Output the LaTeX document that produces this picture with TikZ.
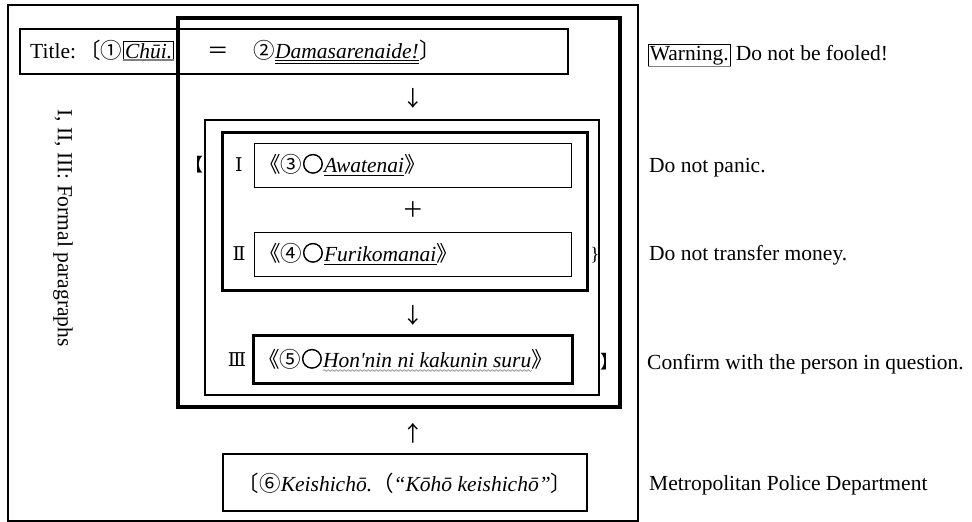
\documentclass[tikz,border=0pt]{standalone}
\usepackage{fontspec}
\setmainfont{Liberation Serif}
\newfontfamily\cjk{Noto Sans CJK JP}
\newfontfamily\cjkb[FakeBold=2.5]{Noto Sans CJK JP}
\newfontfamily\dvs{DejaVu Serif}
\usetikzlibrary{decorations.pathmorphing}
\newcommand\circo{{\cjkb ○}}
\begin{document}
\begin{tikzpicture}[x=1pt,y=-1pt,
  every node/.style={inner sep=0pt, font=\fontsize{21.5}{25}\selectfont},
  frame/.style={draw, line width=#1},
  frame/.default=1pt,
  bw/.style={anchor=base west},
  uline/.style={line width=0.8pt},
  shade/.style={draw=gray, line width=1.6pt}]
\useasboundingbox (0,0) rectangle (972,522);
% frames
\node[frame=1.5pt, minimum width=630pt, minimum height=516pt] (outer) at (323,263) {};
\node[frame=4.5pt, minimum width=442pt, minimum height=389pt] (thick) at (399,212.5) {};
\node[frame=1.2pt, minimum width=548pt, minimum height=45pt] (title) at (294,51.5) {};
\node[frame=2pt, minimum width=394pt, minimum height=275pt] (mid) at (402,257.5) {};
\node[frame=3pt, minimum width=365pt, minimum height=158pt] (inner) at (404.5,211) {};
\node[frame=1pt, minimum width=317pt, minimum height=44pt] (b1) at (412.5,165) {};
\node[frame=1pt, minimum width=317pt, minimum height=44pt] (b2) at (412.5,254) {};
\node[frame=3pt, minimum width=319pt, minimum height=48pt] (b3) at (412.5,359) {};
\node[frame=1.5pt, minimum width=364pt, minimum height=57pt] (b6) at (405,482.5) {};
% title row
\node[bw] (ttl) at (30,58) {Title:\hspace{3pt}{\cjk 〔①}};
\node[bw, draw, line width=0.7pt, inner sep=1.5pt] (chui) at ([xshift=1pt]ttl.base east) {\itshape Chūi.};
\draw[shade] (chui.south west) -- (chui.south east);
\node[anchor=base] (eq) at (218,58) {\cjk ＝};
\node[bw] (n2) at (253,58) {\cjk ②};
\node[bw] (dama) at (n2.base east) {\itshape Damasarenaide!};
\node[bw] (rb) at (dama.base east) {\cjk 〕};
\draw[uline] ([yshift=-2.5pt]dama.base west) -- ([yshift=-2.5pt]dama.base east);
\draw[uline] ([yshift=-5pt]dama.base west) -- ([yshift=-5pt]dama.base east);
% arrows
\node (ar1) at (413,98) {\cjk ↓};
\node (plus) at (413,210) {\cjk ＋};
\node (ar2) at (413,315) {\cjk ↓};
\node (ar3) at (413,433) {\cjk ↑};
% box I
\node (r1) at (239,165) {\dvs\fontsize{19}{20}\selectfont Ⅰ};
\node[bw] (o1) at (259,172) {{\cjk 《③}\circo};
\node[bw] (aw) at (o1.base east) {\itshape Awatenai};
\node[bw] (c1) at (aw.base east) {\cjk 》};
\draw[uline] ([yshift=-3pt]aw.base west) -- ([yshift=-3pt]aw.base east);
% box II
\node (r2) at (239,254) {\dvs\fontsize{19}{20}\selectfont Ⅱ};
\node[bw] (o2) at (259,261) {{\cjk 《④}\circo};
\node[bw] (fu) at (o2.base east) {\itshape Furikomanai};
\node[bw] (c2) at (fu.base east) {\cjk 》};
\draw[uline] ([yshift=-3pt]fu.base west) -- ([yshift=-3pt]fu.base east);
% box III
\node (r3) at (237,360) {\dvs\fontsize{19}{20}\selectfont Ⅲ};
\node[bw] (o3) at (258,367) {{\cjk 《⑤}\circo};
\node[bw] (ho) at (o3.base east) {\itshape Hon\textquotesingle nin ni kakunin suru};
\node[bw] (c3) at (ho.base east) {\cjk 》};
\draw[gray, line width=0.6pt, decorate, decoration={snake, amplitude=0.9pt, segment length=4pt}]
  ([yshift=-3.5pt]ho.base west) -- ([yshift=-3.5pt]ho.base east);
% brackets
\node (lb) at (194,165) {\fontsize{18}{19}\selectfont\cjk 【};
\node (rbr) at (609,362) {\fontsize{18}{19}\selectfont\cjk 】};
\node (brace) at (595,255) {\fontsize{19}{20}\selectfont \}};
% box 6
\node (k6) at (405,483) {{\cjk 〔⑥}{\itshape Keishichō.}{\cjk （}{\itshape “Kōhō keishichō”}{\cjk 〕}};
% vertical text
\node[rotate=-90] (vt) at (63,228) {I, II, III: Formal paragraphs};
% right texts
\node[bw, draw, line width=0.7pt, inner sep=1.5pt] (warn) at (648,60) {Warning.};
\draw[shade] (warn.south west) -- (warn.south east);
\node[bw] (fool) at ([xshift=5pt]warn.base east) {Do not be fooled!};
\node[bw] (panic) at (649,172) {Do not panic.};
\node[bw] (money) at (649,260) {Do not transfer money.};
\node[bw] (conf) at (647,369) {Confirm with the person in question.};
\node[bw] (metro) at (649,490) {Metropolitan Police Department};
\end{tikzpicture}
\end{document}
